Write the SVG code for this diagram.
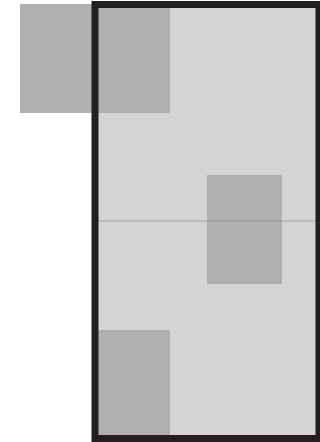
<svg xmlns="http://www.w3.org/2000/svg" width="320" height="442" viewBox="0 0 320 442">
<style>
.block{fill:#b0b0b0}
.frame{fill:none;stroke:#231f20;stroke-width:7}
</style>
<rect x="0" y="0" width="320" height="442" fill="#ffffff"/>
<rect id="bg" x="95" y="4.5" width="224" height="434" fill="#d4d4d4"/>
<g id="block-top"><rect class="block" x="20" y="4" width="150" height="109"/></g>
<g id="block-mid"><rect class="block" x="207" y="175" width="75" height="109"/></g>
<g id="block-bottom"><rect class="block" x="96" y="330" width="74" height="108"/></g>
<g id="connectors"><line x1="98" y1="221" x2="316" y2="221" stroke="#7a7a7a" stroke-opacity="0.55" stroke-width="1"/></g>
<g id="frame"><rect class="frame" x="95" y="4.5" width="224" height="434"/></g>
</svg>
